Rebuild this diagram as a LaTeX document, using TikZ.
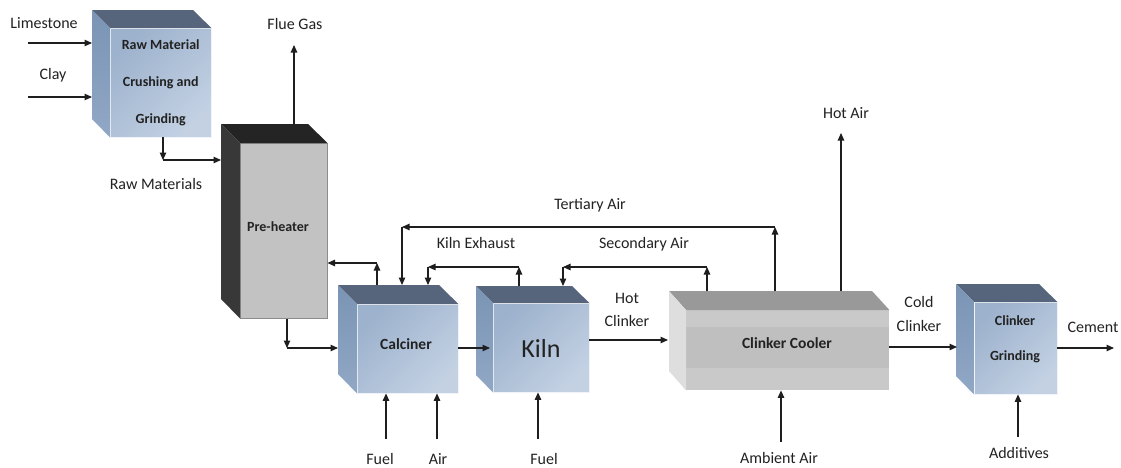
\documentclass[tikz,border=0pt]{standalone}
\usepackage{fontspec}
\setmainfont{Carlito}
\usetikzlibrary{arrows.meta,calc}
\definecolor{ln}{HTML}{1E1E1E}
\definecolor{txt}{HTML}{222222}
\definecolor{bfA}{HTML}{9DB2CD}
\definecolor{bfB}{HTML}{DEE6F0}
\definecolor{bfC}{HTML}{C3D1E3}
\definecolor{bsA}{HTML}{7A94B5}
\definecolor{bsB}{HTML}{91A8C5}
\definecolor{btop}{HTML}{56657B}
\tikzset{
  lbl/.style={font=\fontsize{16}{18}\selectfont, inner sep=0pt, text=txt},
  btxt/.style={font=\bfseries\fontsize{14}{16}\selectfont, inner sep=0pt, text=txt},
  flow/.style={draw=ln, line width=1.1pt, -{Triangle[length=7.5pt,width=6.5pt]}},
  bluefront/.style={draw=white!85!bfA, line width=0.4pt, shading=axis,
     top color=bfA, middle color=bfB, bottom color=bfC, shading angle=45},
  blueside/.style={shading=axis, top color=bsA, bottom color=bsB},
  bluetop/.style={fill=btop},
}
\newcommand\cubeBlue[8]{% name x y w h d font text
  \node[bluefront, minimum width=#4pt, minimum height=#5pt, anchor=north west,
        inner sep=0pt, align=center, text=txt, font=#7] (#1) at (#2,#3) {#8};
  \fill[bluetop] (#1.north west) -- ++(-#6,-#6) -- ++(#4,0) -- (#1.north east) -- cycle;
  \path[blueside] (#1.north west) -- ++(-#6,-#6) -- ++(0,#5) -- (#1.south west) -- cycle;
  \coordinate (#1B) at ($(#1.north west)+(-#6,-#6)$);
}
\begin{document}
\begin{tikzpicture}[x=1pt,y=-1pt]
\useasboundingbox[fill=white] (0,0) rectangle (1121,467);

% ---------- blocks ----------
\cubeBlue{raw}{110}{28}{101}{109}{18}{\bfseries\fontsize{14}{37}\selectfont}{Raw Material\\Crushing and\\Grinding}

% pre-heater
\node[fill=black!24, draw=black!45, line width=0.5pt, minimum width=87pt, minimum height=175pt,
      anchor=north west, inner sep=0pt] (pre) at (240,143) {};
\fill[black!86] (pre.north west) -- ++(-19,-19) -- ++(87,0) -- (pre.north east) -- cycle;
\fill[black!78] (pre.north west) -- ++(-19,-19) -- ++(0,175) -- (pre.south west) -- cycle;
\coordinate (preB) at ($(pre.north west)+(-19,-19)$);
\node[btxt] (pretxt) at (278,227) {Pre-heater};

\cubeBlue{calc}{357}{304}{101}{89}{19}{\bfseries\fontsize{15.5}{17}\selectfont}{}
\node[btxt, font=\bfseries\fontsize{15.5}{17}\selectfont] (calctxt) at (406,344) {Calciner};

\cubeBlue{kiln}{493}{303}{96}{89}{17}{\fontsize{26}{28}\selectfont}{}
\node[lbl, font=\fontsize{26}{28}\selectfont] (kilntxt) at (541,348) {Kiln};

% clinker cooler
\node[fill=black!21, minimum width=203pt, minimum height=80pt, anchor=north west,
      inner sep=0pt] (cool) at (686,310) {};
\fill[black!25] (686,327) rectangle (889,368);
\fill[black!40] (cool.north west) -- ++(-17,-19) -- ++(203,0) -- (cool.north east) -- cycle;
\fill[black!13] (cool.north west) -- ++(-17,-19) -- ++(0,80) -- (cool.south west) -- cycle;
\coordinate (coolB) at ($(cool.north west)+(-17,-19)$);
\node[btxt, font=\bfseries\fontsize{15.5}{17}\selectfont] (cooltxt) at (787,343) {Clinker Cooler};

\cubeBlue{grind}{974}{302}{83}{92}{18}{\bfseries}{}
\node[btxt] (grindtxtA) at (1015,321) {Clinker};
\node[btxt] (grindtxtB) at (1015,357) {Grinding};

% ---------- coordinates ----------
\coordinate (limeS) at (28,43);
\coordinate (clayS) at (28,97);
\coordinate (rm) at (163,160);
\coordinate (fg) at (294,45);
\coordinate (ph) at (377,263);
\coordinate (pb) at (287,348);
\coordinate (kin) at (490,348);
\coordinate (ke1) at (519,267);
\coordinate (ke2) at (428,267);
\coordinate (ta1) at (775,227);
\coordinate (ta2) at (402,227);
\coordinate (sa1) at (707,267);
\coordinate (sa2) at (563,267);
\coordinate (hc) at (668,340);
\coordinate (ha) at (841,133);
\coordinate (amb) at (781,442);
\coordinate (cc) at (957,347);
\coordinate (cem) at (1114,348);
\coordinate (add) at (1018,437);
\coordinate (f1) at (386,439);
\coordinate (a1) at (437,439);
\coordinate (f2) at (538,439);

% ---------- connectors ----------
\draw[flow] (limeS) -- (limeS -| rawB);
\draw[flow] (clayS) -- (clayS -| rawB);
\draw[flow] (rm |- raw.south) -- (rm);
\draw[flow] (rm) -- (rm -| preB);
\draw[flow] (fg |- preB) -- (fg);
\draw[flow] (ph |- calcB) -- (ph);
\draw[flow] (ph) -- (ph -| pre.east);
\draw[flow] (pb |- pre.south) -- (pb);
\draw[flow] (pb) -- (pb -| calcB);
\draw[flow] (calc.east |- kin) -- (kin);
\draw[flow] (ke1 |- kilnB) -- (ke1);
\draw[flow] (ke1) -- (ke2);
\draw[flow] (ke2) -- (ke2 |- calcB);
\draw[flow] (ta1 |- coolB) -- (ta1);
\draw[flow] (ta1) -- (ta2);
\draw[flow] (ta2) -- (ta2 |- calcB);
\draw[flow] (sa1 |- coolB) -- (sa1);
\draw[flow] (sa1) -- (sa2);
\draw[flow] (sa2) -- (sa2 |- kilnB);
\draw[flow] (kiln.east |- hc) -- (hc);
\draw[flow] (ha |- coolB) -- (ha);
\draw[flow] (amb) -- (amb |- cool.south);
\draw[flow] (cool.east |- cc) -- (cc);
\draw[flow] (grind.east |- cem) -- (cem);
\draw[flow] (add) -- (add |- grind.south);
\draw[flow] (f1) -- (f1 |- calc.south);
\draw[flow] (a1) -- (a1 |- calc.south);
\draw[flow] (f2) -- (f2 |- kiln.south);

% ---------- labels ----------
\node[lbl] (lLime) at (44,23) {Limestone};
\node[lbl] (lClay) at (53,75) {Clay};
\node[lbl] (lFlue) at (295,24) {Flue Gas};
\node[lbl] (lRawM) at (156,184) {Raw Materials};
\node[lbl] (lTert) at (590,205) {Tertiary Air};
\node[lbl] (lKex) at (476,243) {Kiln Exhaust};
\node[lbl] (lSec) at (644,244) {Secondary Air};
\node[lbl] (lHot1) at (627,298) {Hot};
\node[lbl] (lHot2) at (627,321) {Clinker};
\node[lbl] (lHotAir) at (846,113) {Hot Air};
\node[lbl] (lCold1) at (919,302) {Cold};
\node[lbl] (lCold2) at (919,326) {Clinker};
\node[lbl] (lCem) at (1093,327) {Cement};
\node[lbl] (lAmb) at (779,458) {Ambient Air};
\node[lbl] (lAdd) at (1019,453) {Additives};
\node[lbl] (lF1) at (380,459) {Fuel};
\node[lbl] (lA1) at (438,459) {Air};
\node[lbl] (lF2) at (544,459) {Fuel};
\end{tikzpicture}
\end{document}
